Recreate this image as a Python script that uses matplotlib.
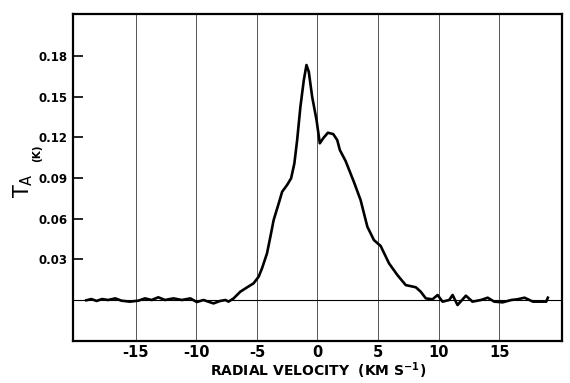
import numpy as np
import matplotlib
matplotlib.use('Agg')
import matplotlib.pyplot as plt

# spectrum: radial velocity (km/s) vs antenna temperature (K)
velocity = [-19.1, -18.67, -18.25, -17.8, -17.3, -16.7, -16.2, -15.5, -14.8, -14.25,
            -13.7, -13.15, -12.6, -11.9, -11.2, -10.5, -9.97, -9.42, -8.59, -8.04,
            -7.6, -7.35, -6.93, -6.38, -5.82, -5.28, -4.86, -4.58, -4.17, -3.89,
            -3.62, -3.2, -2.92, -2.51, -2.18, -1.91, -1.68, -1.41, -1.13, -0.91,
            -0.72, -0.44, -0.08, 0.19, 0.47, 0.86, 1.3, 1.63, 1.85, 2.32,
            3.0, 3.56, 4.12, 4.66, 5.22, 5.91, 6.6, 7.29, 8.12, 8.53,
            8.95, 9.5, 9.92, 10.33, 10.88, 11.16, 11.57, 12.26, 12.8, 13.5,
            14.06, 14.6, 15.3, 16.0, 16.5, 17.1, 17.8, 18.5, 18.9, 19.03]
t_ant = [-0.0002, 0.0007, -0.0007, 0.0007, 0.0, 0.0012, -0.0005, -0.0012, -0.0005, 0.0012,
         0.0, 0.0020, 0.0, 0.0012, 0.0, 0.0012, -0.0015, 0.0, -0.0025, -0.0007,
         0.0, -0.0012, 0.0012, 0.0061, 0.0093, 0.0123, 0.0172, 0.0234, 0.0344, 0.0467,
         0.0590, 0.0713, 0.0798, 0.0848, 0.0897, 0.1007, 0.1179, 0.1425, 0.1621, 0.1732,
         0.1683, 0.1498, 0.1327, 0.1155, 0.1192, 0.1233, 0.1223, 0.1179, 0.1105, 0.1025,
         0.0872, 0.0737, 0.0540, 0.0442, 0.0398, 0.0270, 0.0184, 0.0110, 0.0094, 0.0061,
         0.0012, 0.0005, 0.0037, -0.0012, 0.0, 0.0037, -0.0037, 0.0032, -0.0012, 0.0,
         0.0017, -0.0012, -0.0017, 0.0, 0.0005, 0.0017, -0.0012, -0.0012, -0.0012, 0.0017]

xticks = [-15, -10, -5, 0, 5, 10, 15]
yticks = [0.03, 0.06, 0.09, 0.12, 0.15, 0.18]
ytick_labels = ['0.03', '0.06', '0.09', '0.12', '0.15', '0.18']

plt.rcParams['font.family'] = 'DejaVu Sans'

fig = plt.figure(figsize=(5.70, 3.83), dpi=100)
ax = fig.add_axes([0.128, 0.1097, 0.858, 0.8537])

for xv in xticks:
    ax.axvline(xv, color='#555555', lw=0.7, zorder=1)
ax.axhline(0, color='black', lw=0.8, zorder=1)

ax.plot(velocity, t_ant, color='black', lw=1.9, zorder=3,
        solid_joinstyle='round')

ax.set_xlim(-20.2, 20.2)
ax.set_ylim(-0.0302, 0.2108)

ax.set_xticks(xticks)
ax.set_xticklabels([str(v) for v in xticks], fontsize=10.5, fontweight='bold')
ax.tick_params(axis='x', length=0, pad=3)
ax.set_yticks(yticks)
ax.set_yticklabels(ytick_labels, fontsize=8.5, fontweight='bold')
ax.tick_params(axis='y', direction='in', length=7, width=1.2, pad=4)

for s in ax.spines.values():
    s.set_linewidth(1.6)

fig.text(0.558, 0.031, r'RADIAL VELOCITY  (KM S$^{\mathbf{-1}}$)', fontsize=10,
         fontweight='bold', ha='center', va='center')
fig.text(0.040, 0.515, r'T$_{\mathregular{A}}$', rotation=90, fontsize=15,
         ha='center', va='center')
fig.text(0.066, 0.60, '(K)', rotation=90, fontsize=7.5, fontweight='bold',
         ha='center', va='center')

fig.savefig('out.png', dpi=100)
